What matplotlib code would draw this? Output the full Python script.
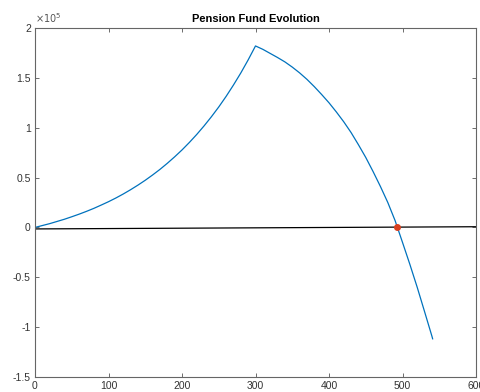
import matplotlib.pyplot as plt

plt.rcParams['font.family'] = ['Liberation Sans', 'DejaVu Sans']

# month numbers and fund value (in units of 1e5)
months = list(range(0, 541, 10)) + [541]
fund = [0, 0.019, 0.038, 0.060, 0.082, 0.107, 0.133, 0.161, 0.191, 0.224, 0.258,
        0.295, 0.335, 0.378, 0.424, 0.473, 0.526, 0.582, 0.643, 0.708, 0.777,
        0.852, 0.932, 1.018, 1.110, 1.208, 1.314, 1.428, 1.549, 1.680, 1.820,
        1.786, 1.745, 1.704, 1.660, 1.608, 1.550, 1.485, 1.412, 1.333, 1.250,
        1.158, 1.060, 0.952, 0.830, 0.702, 0.560, 0.410, 0.250, 0.067, -0.150,
        -0.370, -0.600, -0.844, -1.090, -1.117]

# horizontal reference line and the point where the fund runs out
zero_x = [0, 600]
zero_y = [-0.015, 0.007]
empty_x = [493]
empty_y = [0.0]

fig = plt.figure(figsize=(4.8, 3.92), dpi=100)
ax = fig.add_axes([35 / 480, 15 / 392, 441 / 480, 349 / 392])

ax.plot(months, fund, color='#0072BD', lw=0.9)
ax.plot(zero_x, zero_y, color='black', lw=0.9)
ax.plot(empty_x, empty_y, 'o', color='#d9401f', ms=4, mec='#d9401f')

ax.set_xlim(0, 600)
ax.set_ylim(-1.5, 2)
ax.set_xticks(range(0, 601, 100))
ax.set_yticks([-1.5, -1, -0.5, 0, 0.5, 1, 1.5, 2])
ax.set_yticklabels(['-1.5', '-1', '-0.5', '0', '0.5', '1', '1.5', '2'])
ax.tick_params(direction='in', top=True, right=True, length=3, width=0.6,
               labelsize=7.5, colors='#555555', labelcolor='#333333', pad=3)
for s in ax.spines.values():
    s.set_color('#666666')
    s.set_linewidth(0.8)

ax.set_title('Pension Fund Evolution', fontsize=8, fontweight='bold', pad=4)
ax.text(0.0, 1.01, r'$\times10^5$', transform=ax.transAxes, fontsize=7,
        color='#555555', ha='left', va='bottom')

fig.savefig('out.png', dpi=100)
